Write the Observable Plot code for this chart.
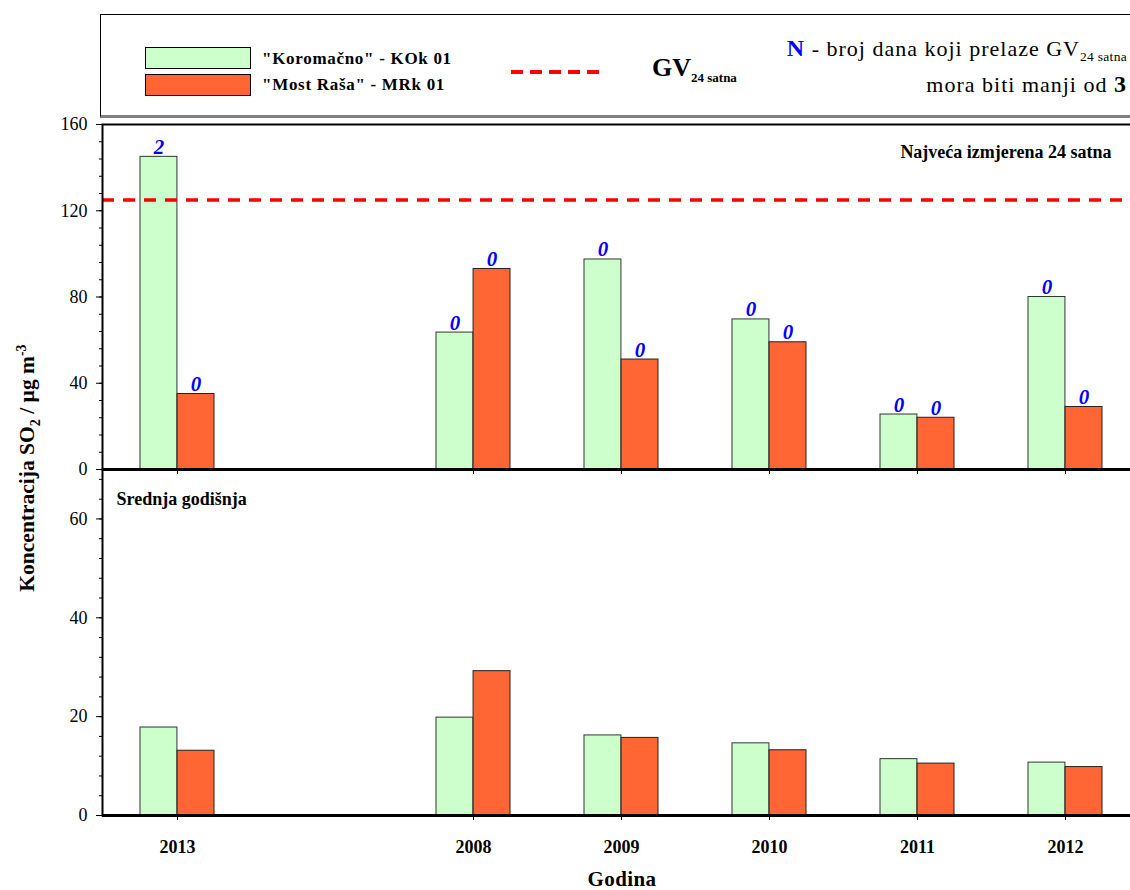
<!DOCTYPE html>
<html><head><meta charset="utf-8">
<script src="https://cdn.jsdelivr.net/npm/d3@7"></script>
<script src="https://cdn.jsdelivr.net/npm/@observablehq/plot@0.6"></script>
<style>
html,body{margin:0;padding:0;overflow:hidden;background:#fff;}
body{width:1130px;height:890px;position:relative;font-family:"Liberation Serif","Times New Roman",serif;color:#000;}
.abs{position:absolute;white-space:nowrap;}
.lgt{font-weight:bold;font-size:17px;letter-spacing:0.7px;line-height:17px;}
#top svg,#bottom svg{max-width:none !important;}
</style></head><body>
<div class="abs" style="left:100px;top:14px;width:1100px;height:100px;border-top:1.5px solid #000;border-left:1.5px solid #000;border-bottom:3px solid #808080;"></div>
<div id="legend"></div>
<div id="top" class="abs" style="left:0;top:110px;width:1145px"></div>
<div id="bottom" class="abs" style="left:0;top:460px;width:1145px"></div>
<div class="abs" style="left:29px;top:468px;transform:translate(-50%,-50%) rotate(-90deg);font-weight:bold;font-size:21.5px;">Koncentracija SO<sub style="font-size:14px">2</sub> / µg m<sup style="font-size:14px">-3</sup></div>
<div class="abs" style="left:622px;top:879px;transform:translate(-50%,-50%);font-weight:bold;font-size:21px;line-height:20px;letter-spacing:0.4px;">Godina</div>
<script>
// ---- data ----
const years = ["2013", "2008", "2009", "2010", "2011", "2012"];
const slots = ["2013", " ", "2008", "2009", "2010", "2011", "2012"];
const seriesNames = ["\"Koromačno\" - KOk 01", "\"Most Raša\" - MRk 01"];
const seriesColors = ["#CCFFCC", "#FF6633"];
const maxKor = [145, 63.5, 97.4, 69.6, 25.5, 80];
const maxMost = [35, 93, 51, 59, 24, 29];
const nKor = [2, 0, 0, 0, 0, 0];
const nMost = [0, 0, 0, 0, 0, 0];
const meanKor = [17.8, 19.8, 16.2, 14.6, 11.4, 10.7];
const meanMost = [13.1, 29.2, 15.7, 13.2, 10.5, 9.8];
const limit24 = 125;
const topTicks = [0, 40, 80, 120, 160];
const topMinor = [0, 8, 16, 24, 32, 40, 48, 56, 64, 72, 80, 88, 96, 104, 112, 120, 128, 136, 144, 152, 160];
const bottomTicks = [0, 20, 40, 60];
const bottomMinor = [0, 4, 8, 12, 16, 20, 24, 28, 32, 36, 40, 44, 48, 52, 56, 60, 64, 68];
const topPanelLabel = "Najveća izmjerena 24 satna";
const bottomPanelLabel = "Srednja godišnja";

// ---- legend ----
const lg = document.getElementById("legend");
seriesNames.forEach((name, i) => {
  const sw = document.createElement("div");
  sw.className = "abs";
  sw.style.cssText = `left:145px;top:${47 + i * 27}px;width:104px;height:20px;background:${seriesColors[i]};border:1px solid #000;`;
  lg.appendChild(sw);
  const t = document.createElement("div");
  t.className = "abs lgt";
  t.style.cssText = `left:262px;top:${50 + i * 26}px;`;
  t.textContent = name;
  lg.appendChild(t);
});
lg.insertAdjacentHTML("beforeend", `
<svg class="abs" style="left:508px;top:66px" width="95" height="12"><line x1="3" x2="92" y1="6" y2="6" stroke="#FF0000" stroke-width="4" stroke-dasharray="12,7"/></svg>
<div class="abs" style="left:652px;top:55px;font-weight:bold;font-size:26px;line-height:26px;">GV<sub style="font-size:13px;vertical-align:-6px;">24 satna</sub></div>
<div class="abs" style="right:3px;top:37px;font-size:22px;line-height:23px;letter-spacing:1px;text-align:right;"><b style="color:#0000FF;font-size:24px;">N</b> - broj dana koji prelaze GV<sub style="font-size:13.5px;vertical-align:-5px;letter-spacing:0.3px;">24 satna</sub></div>
<div class="abs" style="right:3px;top:73px;font-size:22px;line-height:23px;letter-spacing:1px;text-align:right;">mora biti manji od <b style="font-size:24px;">3</b></div>
`);

// ---- layout ----
const FONT = "Liberation Serif, Times New Roman, serif";
const W = 1145, ML = 102, MR = 5;
const step = (W - ML - MR) / slots.length;
const barW = step / 4;
const xOpt = {type: "band", domain: slots, paddingInner: 0.5, paddingOuter: 0.25, axis: null};
const style = {background: "transparent", overflow: "visible", maxWidth: "none", fontFamily: FONT, fontSize: "17px", color: "#000"};

const rows = (a, b, n1, n2) => ({
  kor: years.map((y, i) => ({year: y, value: a[i], n: n1 ? n1[i] : null})),
  most: years.map((y, i) => ({year: y, value: b[i], n: n2 ? n2[i] : null}))
});
const tr = rows(maxKor, maxMost, nKor, nMost);
const br = rows(meanKor, meanMost);

const labelOpts = {x: "year", y: "value", text: "n", lineAnchor: "bottom", dy: -3, fill: "#0000FF", fontSize: 21, fontStyle: "italic", fontWeight: "bold", fontFamily: FONT};

const topPlot = Plot.plot({
  width: W, height: 371, marginTop: 14, marginBottom: 12, marginLeft: ML, marginRight: MR,
  style,
  x: xOpt,
  y: {domain: [0, 160], axis: null},
  marks: [
    Plot.barY(tr.kor, {x: "year", y: "value", fill: seriesColors[0], stroke: "#333", strokeWidth: 1, insetRight: barW, insetLeft: 0}),
    Plot.barY(tr.most, {x: "year", y: "value", fill: seriesColors[1], stroke: "#222", strokeWidth: 1, insetLeft: barW, insetRight: 0}),
    Plot.ruleY([limit24], {stroke: "#FF0000", strokeWidth: 3.5, strokeDasharray: "12,9"}),
    Plot.text(tr.kor, {...labelOpts, dx: -barW / 2}),
    Plot.text(tr.most, {...labelOpts, dx: barW / 2}),
    Plot.frame({stroke: "#000", strokeWidth: 2}),
    Plot.ruleY([0], {stroke: "#000", strokeWidth: 3}),
    Plot.axisY({ticks: topTicks, tickSize: 6, tickPadding: 9, label: null, fontSize: 18, fontFamily: FONT}),
    Plot.axisY({ticks: topMinor, tickSize: 3, tickFormat: () => "", label: null}),
    Plot.axisX({ticks: years, tickSize: 5, tickFormat: () => "", label: null}),
    Plot.text([topPanelLabel], {frameAnchor: "top-right", dx: -29, dy: 28, lineAnchor: "middle", textAnchor: "end", fontWeight: "bold", fontSize: 18, fontFamily: FONT, letterSpacing: 1})
  ]
});
document.getElementById("top").appendChild(topPlot);

const bottomPlot = Plot.plot({
  width: W, height: 430, marginTop: 9, marginBottom: 75, marginLeft: ML, marginRight: MR,
  style,
  x: xOpt,
  y: {domain: [0, 70], axis: null},
  marks: [
    Plot.barY(br.kor, {x: "year", y: "value", fill: seriesColors[0], stroke: "#333", strokeWidth: 1, insetRight: barW, insetLeft: 0}),
    Plot.barY(br.most, {x: "year", y: "value", fill: seriesColors[1], stroke: "#222", strokeWidth: 1, insetLeft: barW, insetRight: 0}),
    Plot.frame({stroke: "#000", strokeWidth: 2}),
    Plot.ruleY([0], {stroke: "#000", strokeWidth: 3}),
    Plot.axisY({ticks: bottomTicks, tickSize: 6, tickPadding: 9, label: null, fontSize: 18, fontFamily: FONT}),
    Plot.axisY({ticks: bottomMinor, tickSize: 3, tickFormat: () => "", label: null}),
    Plot.axisX({ticks: years, tickSize: 5, tickPadding: 20, label: null, fontSize: 18, fontWeight: "bold", fontFamily: FONT, letterSpacing: 0.6}),
    Plot.text([bottomPanelLabel], {frameAnchor: "top-left", dx: 14, dy: 30, lineAnchor: "middle", textAnchor: "start", fontWeight: "bold", fontSize: 18, fontFamily: FONT, letterSpacing: 1})
  ]
});
document.getElementById("bottom").appendChild(bottomPlot);
</script>
</body></html>
